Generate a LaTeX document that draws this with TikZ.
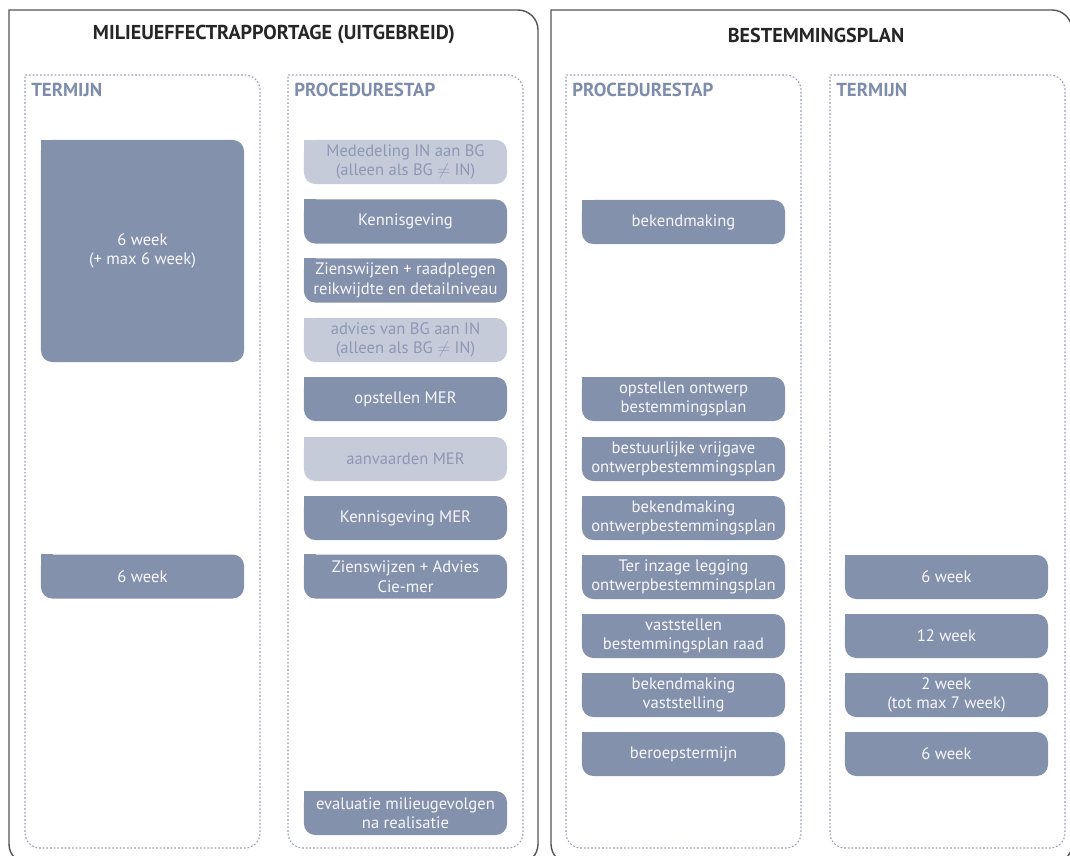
\documentclass[tikz,border=0pt]{standalone}
\usepackage{fontspec}
\setmainfont{PT Sans}
\usetikzlibrary{backgrounds}

\definecolor{cardblue}{RGB}{132,145,173}
\definecolor{cardtext}{RGB}{246,247,250}
\definecolor{paleblue}{RGB}{198,203,218}
\definecolor{paletext}{RGB}{140,152,181}
\definecolor{headblue}{RGB}{126,140,172}
\definecolor{panelblue}{RGB}{150,158,180}
\definecolor{framegray}{RGB}{85,85,85}
\definecolor{titlegray}{RGB}{38,38,38}

\begin{document}
\begin{tikzpicture}[x=0.025cm,y=-0.025cm,
  card/.style={fill=cardblue, text=cardtext, rounded corners=8pt,
    minimum width=5.075cm, minimum height=1.1cm, inner sep=0pt,
    align=center, font=\fontsize{11.8}{13.8}\selectfont},
  palecard/.style={card, fill=paleblue, text=paletext},
  head/.style={anchor=west, inner sep=0pt, text=headblue,
    font=\bfseries\fontsize{13.4}{15}\selectfont},
  title/.style={text=titlegray, font=\bfseries\fontsize{14.3}{17}\selectfont},
  panel/.style={draw=panelblue, line width=0.8pt, dash pattern=on 1.2pt off 1.4pt},
  frame/.style={draw=framegray, line width=1pt}]
  \useasboundingbox (0,0) rectangle (1070,855);
  \clip (0,0) rectangle (1070,855);

  % outer frames and dotted columns
  \draw[frame] (9,400) -- (9,10) -- (518,10) arc[start angle=90,end angle=0,radius=0.5cm]
    -- (538,844) arc[start angle=0,end angle=-90,radius=0.5cm]
    -- (29,864) arc[start angle=270,end angle=180,radius=0.5cm] -- cycle;
  \draw[frame] (551,400) -- (551,10) -- (1052,10) arc[start angle=90,end angle=0,radius=0.5cm]
    -- (1072,844) arc[start angle=0,end angle=-90,radius=0.5cm]
    -- (571,864) arc[start angle=270,end angle=180,radius=0.5cm] -- cycle;
  \draw[panel] (25,400) -- (25,75) -- (245,75) arc[start angle=90,end angle=0,radius=0.375cm]
    -- (260,833) arc[start angle=0,end angle=-90,radius=0.375cm]
    -- (40,848) arc[start angle=270,end angle=180,radius=0.375cm] -- cycle;
  \draw[panel] (288,400) -- (288,75) -- (508,75) arc[start angle=90,end angle=0,radius=0.375cm]
    -- (523,833) arc[start angle=0,end angle=-90,radius=0.375cm]
    -- (303,848) arc[start angle=270,end angle=180,radius=0.375cm] -- cycle;
  \draw[panel] (566,400) -- (566,75) -- (786,75) arc[start angle=90,end angle=0,radius=0.375cm]
    -- (801,833) arc[start angle=0,end angle=-90,radius=0.375cm]
    -- (581,848) arc[start angle=270,end angle=180,radius=0.375cm] -- cycle;
  \draw[panel] (830,400) -- (830,75) -- (1050,75) arc[start angle=90,end angle=0,radius=0.375cm]
    -- (1065,833) arc[start angle=0,end angle=-90,radius=0.375cm]
    -- (845,848) arc[start angle=270,end angle=180,radius=0.375cm] -- cycle;

  \node[title] (mer) at (274,35) {MILIEUEFFECTRAPPORTAGE (UITGEBREID)};
  \node[title] (bp) at (816,35) {BESTEMMINGSPLAN};
  \node[head] (mterm) at (31,90) {TERMIJN};
  \node[head] (mproc) at (294,90) {PROCEDURESTAP};
  \node[head] (bproc) at (572,90) {PROCEDURESTAP};
  \node[head] (bterm) at (836,90) {TERMIJN};

  % milieueffectrapportage
  \node[card, minimum height=5.55cm] (t1) at (142.5,251) {6 week\\(+ max 6 week)};
  \node[card] (t2) at (142.5,576.5) {6 week};
  \node[palecard] (m1) at (405.5,162) {Mededeling IN aan BG\\(alleen als BG $\neq$ IN)};
  \node[card] (m2) at (405.5,221.5) {Kennisgeving};
  \node[card] (m3) at (405.5,280.5) {Zienswijzen + raadplegen\\reikwijdte en detailniveau};
  \node[palecard] (m4) at (405.5,340) {advies van BG aan IN\\(alleen als BG $\neq$ IN)};
  \node[card] (m5) at (405.5,399) {opstellen MER};
  \node[palecard] (m6) at (405.5,459) {aanvaarden MER};
  \node[card] (m7) at (405.5,518) {Kennisgeving MER};
  \node[card] (m8) at (405.5,576.5) {Zienswijzen + Advies\\Cie-mer};
  \node[card] (m9) at (405.5,813) {evaluatie milieugevolgen\\na realisatie};

  % bestemmingsplan
  \node[card] (b1) at (683.5,222) {bekendmaking};
  \node[card] (b2) at (683.5,399) {opstellen ontwerp\\bestemmingsplan};
  \node[card] (b3) at (683.5,459) {bestuurlijke vrijgave\\ontwerpbestemmingsplan};
  \node[card] (b4) at (683.5,518) {bekendmaking\\ontwerpbestemmingsplan};
  \node[card] (b5) at (683.5,577) {Ter inzage legging\\ontwerpbestemmingsplan};
  \node[card] (b6) at (683.5,636) {vaststellen\\bestemmingsplan raad};
  \node[card] (b7) at (683.5,695) {bekendmaking\\vaststelling};
  \node[card] (b8) at (683.5,754) {beroepstermijn};
  \node[card] (w1) at (946.5,577) {6 week};
  \node[card] (w2) at (946.5,636) {12 week};
  \node[card] (w3) at (946.5,695) {2 week\\(tot max 7 week)};
  \node[card] (w4) at (946.5,754) {6 week};

  % square top left corners
  \begin{scope}[on background layer]
    \foreach \n in {t1,t2,m2,m3,m5,m7,m8,m9,b1,b2,b3,b4,b5,b6,b7,b8,w1,w2,w3,w4}
      \fill[cardblue] (\n.north west) rectangle ++(12,12);
    \foreach \n in {m1,m4,m6}
      \fill[paleblue] (\n.north west) rectangle ++(12,12);
  \end{scope}
\end{tikzpicture}
\end{document}
